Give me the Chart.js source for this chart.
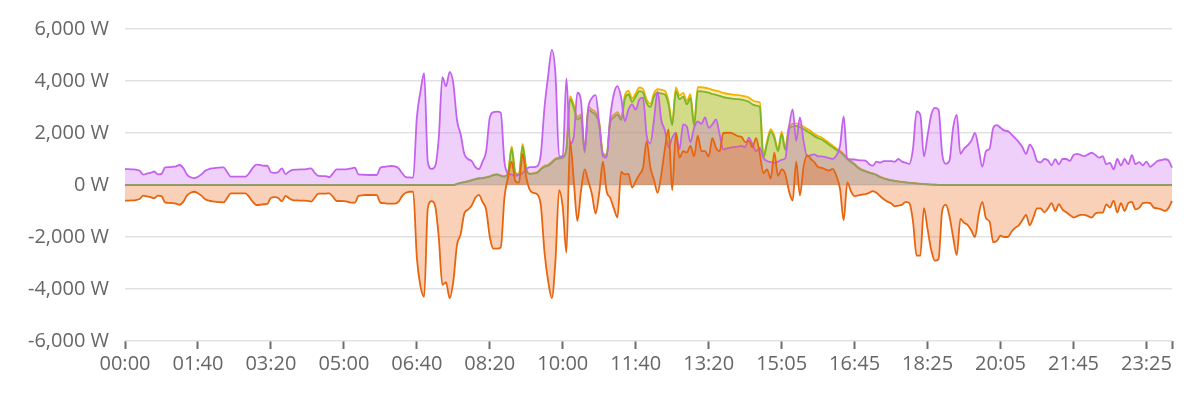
<!DOCTYPE html>
<html>
<head>
<meta charset="utf-8">
<script src="https://cdn.jsdelivr.net/npm/chart.js@4.4.1/dist/chart.umd.min.js"></script>
<style>
html,body{margin:0;padding:0;background:#fff;}
#wrap{width:1200px;height:393px;}
</style>
</head>
<body>
<div id="wrap"><canvas id="c" width="1200" height="393"></canvas></div>
<script>
// 5-minute categories (one sample missing in the early afternoon)
const categories = [];
for (let i = 0; i < 288; i++) {
  const m = (i * 5 + (i > 168 ? 5 : 0)) % 1440;
  categories.push(String(Math.floor(m / 60)).padStart(2, '0') + ':' + String(m % 60).padStart(2, '0'));
}
const tickEvery = 20;
const yTicks = [-6000, -4000, -2000, 0, 2000, 4000, 6000];

const grid = [
-600,-600,-590,-580,-540,-410,-440,-470,-510,-410,
-430,-670,-690,-700,-720,-760,-640,-400,-300,-260,
-320,-420,-550,-600,-630,-650,-660,-670,-500,-320,
-320,-320,-320,-320,-450,-640,-770,-760,-740,-730,
-490,-470,-500,-630,-420,-510,-580,-590,-600,-600,
-610,-640,-490,-330,-330,-330,-320,-450,-615,-615,
-620,-640,-680,-680,-420,-400,-385,-385,-385,-390,
-680,-700,-720,-720,-720,-640,-420,-300,-260,-255,
-2800,-3900,-4300,-900,-620,-800,-2000,-3840,-3750,-4350,
-3700,-2300,-1900,-1100,-950,-800,-500,-380,-650,-950,
-2000,-2450,-2450,-2400,-500,300,900,150,90,1200,
300,-200,-300,-360,-800,-2600,-3700,-4350,-2900,-200,
-870,-2600,1700,200,-1380,-230,600,150,-360,-1100,
-300,900,-230,-490,-900,-1250,500,410,430,-100,
150,400,665,1690,700,200,-300,400,1400,2140,
-200,2000,1050,1300,1250,1500,1100,1900,1300,1300,
1100,1800,1430,1300,2000,2010,2010,1950,1880,1850,
1650,1700,1450,1800,1200,450,600,250,1240,350,
600,420,-230,-600,900,-400,700,1150,1000,870,
690,660,600,550,620,350,-150,-1350,100,-240,
-430,-400,-370,-350,-300,-235,-300,-430,-550,-640,
-700,-820,-790,-760,-650,-700,-1400,-2720,-2720,-890,
-1700,-2500,-2910,-2850,-1000,-760,-1200,-2000,-2700,-1300,
-1450,-1540,-1750,-2000,-1150,-650,-1280,-1410,-2200,-2150,
-1950,-2000,-2000,-1800,-1650,-1550,-1350,-1150,-1550,-1250,
-900,-900,-1050,-900,-700,-1000,-740,-950,-1050,-1150,
-1250,-1200,-1150,-1150,-1200,-1250,-1100,-1060,-1060,-750,
-870,-600,-1060,-700,-1000,-700,-650,-935,-880,-700,
-680,-700,-870,-900,-935,-1000,-900,-615
];

const consumption = [
615,610,600,590,550,400,440,470,520,410,
430,680,690,700,720,770,650,400,300,260,
320,420,550,610,640,660,670,680,500,320,
320,320,320,320,450,650,780,770,740,740,
490,470,500,640,420,520,580,590,600,600,
620,640,470,350,345,345,300,450,600,600,
600,610,640,665,410,400,390,385,385,385,
665,700,720,730,720,640,450,300,290,280,
2590,3600,4300,900,620,720,1800,4150,3800,4350,
3900,2500,1950,1200,1000,930,700,610,900,1300,
2600,2800,2820,2780,900,450,400,360,380,460,
620,690,690,720,1200,3000,4200,5200,4250,1100,
1110,4100,1600,1850,3550,3230,1350,2970,3350,3460,
2330,1110,1050,2600,3500,3800,3360,2450,2900,3100,
2900,3290,3360,1900,1600,2500,3600,2500,2100,1450,
1820,2010,1370,2330,2250,1650,2200,2450,2350,2600,
2200,2330,2520,1950,1370,1410,1440,1460,1480,1500,
1460,1820,1560,1300,1430,1050,920,880,860,900,
970,1030,2200,2910,1700,2600,1700,1100,1150,1180,
1100,1100,1070,1030,1000,1140,1500,2640,1000,980,
980,960,950,940,800,745,900,860,920,920,
920,900,1000,900,860,810,1400,2830,2700,1100,
1900,2700,2970,2900,1200,810,940,2200,2700,1200,
1400,1530,1700,2000,1400,700,1300,1400,2200,2300,
2200,2100,2070,1950,1800,1650,1450,1200,1550,1350,
920,870,1000,950,760,990,790,1000,1000,930,
1150,1200,1150,1110,1180,1240,1150,1050,1110,800,
850,600,1000,750,1000,800,1150,800,880,760,
900,700,800,920,960,990,950,665
];

const pvInverter = [
0,0,0,0,0,0,0,0,0,0,
0,0,0,0,0,0,0,0,0,0,
0,0,0,0,0,0,0,0,0,0,
0,0,0,0,0,0,0,0,0,0,
0,0,0,0,0,0,0,0,0,0,
0,0,0,0,0,0,0,0,0,0,
0,0,0,0,0,0,0,0,0,0,
0,0,0,0,0,0,0,0,0,0,
0,0,0,0,0,0,0,0,0,0,
0,40,80,110,140,180,220,250,260,280,
320,380,400,350,320,450,1400,450,400,1500,
600,420,440,470,600,700,740,850,980,1020,
1050,1350,3300,2970,2520,2610,1250,2900,2800,2700,
2330,1180,1110,2400,2600,2710,2500,3300,3480,3200,
3400,3610,3550,3150,3000,3400,3550,3520,3480,3100,
2300,3600,3300,3400,3100,3350,2270,3610,3600,3580,
3550,3500,3470,3430,3380,3350,3330,3310,3300,3280,
3250,3200,3100,3050,3000,1050,1600,2050,1800,1300,
1950,1350,2150,2250,2270,2220,2150,2070,1980,1880,
1800,1750,1650,1550,1450,1350,1270,1150,1000,880,
780,650,570,520,470,430,380,300,250,210,
180,160,130,120,100,85,75,60,45,35,
25,15,10,5,0,0,0,0,0,0,
0,0,0,0,0,0,0,0,0,0,
0,0,0,0,0,0,0,0,0,0,
0,0,0,0,0,0,0,0,0,0,
0,0,0,0,0,0,0,0,0,0,
0,0,0,0,0,0,0,0,0,0,
0,0,0,0,0,0,0,0
];

const pvTotal = [
0,0,0,0,0,0,0,0,0,0,
0,0,0,0,0,0,0,0,0,0,
0,0,0,0,0,0,0,0,0,0,
0,0,0,0,0,0,0,0,0,0,
0,0,0,0,0,0,0,0,0,0,
0,0,0,0,0,0,0,0,0,0,
0,0,0,0,0,0,0,0,0,0,
0,0,0,0,0,0,0,0,0,0,
0,0,0,0,0,0,0,0,0,0,
0,40,85,115,150,190,230,260,270,300,
340,400,420,370,340,480,1480,480,420,1580,
630,440,460,500,630,740,780,890,1020,1060,
1100,1420,3420,3080,2620,2710,1300,3010,2900,2800,
2420,1230,1160,2500,2700,2800,2600,3440,3620,3330,
3530,3750,3690,3280,3120,3530,3690,3660,3620,3220,
2390,3750,3440,3540,3230,3490,2360,3760,3760,3740,
3710,3660,3630,3590,3540,3510,3490,3470,3460,3440,
3410,3360,3260,3210,3180,1120,1690,2150,1890,1370,
2050,1430,2250,2350,2370,2320,2240,2160,2070,1960,
1880,1830,1720,1620,1510,1400,1320,1200,1040,920,
810,680,600,540,490,450,400,320,265,225,
190,170,140,125,105,90,80,65,50,38,
28,18,12,6,0,0,0,0,0,0,
0,0,0,0,0,0,0,0,0,0,
0,0,0,0,0,0,0,0,0,0,
0,0,0,0,0,0,0,0,0,0,
0,0,0,0,0,0,0,0,0,0,
0,0,0,0,0,0,0,0,0,0,
0,0,0,0,0,0,0,0
];

const FONT = {family: "'Open Sans', 'Noto Sans', sans-serif", size: 20};
function ds(label, data, line, fill) {
  return {label, data, borderColor: line, backgroundColor: fill, fill: 'origin',
    borderWidth: 1.8, pointRadius: 0, pointHoverRadius: 0, cubicInterpolationMode: 'monotone'};
}

new Chart(document.getElementById('c'), {
  type: 'line',
  data: {
    labels: categories,
    datasets: [
      ds('Grid', grid, '#e8650f', 'rgba(236,104,20,0.30)'),
      ds('Consumption', consumption, '#c462f0', 'rgba(200,100,240,0.30)'),
      ds('PV inverter', pvInverter, '#7ab62a', 'rgba(124,184,47,0.32)'),
      ds('PV total', pvTotal, '#f2b300', 'rgba(245,184,0,0.30)')
    ]
  },
  options: {
    responsive: false,
    animation: false,
    devicePixelRatio: 1,
    layout: {padding: {top: 29, right: 28, bottom: 0, left: 0}},
    plugins: {legend: {display: false}, tooltip: {enabled: false}},
    scales: {
      x: {
        type: 'category',
        offset: false,
        border: {display: false},
        grid: {drawOnChartArea: false, drawTicks: true, tickLength: 8, tickColor: '#6e6e6e', tickWidth: 2},
        ticks: {
          autoSkip: false, maxRotation: 0, minRotation: 0, padding: 3,
          color: '#666', font: FONT,
          callback: function(v, idx) {
            if (idx % tickEvery === 0) return categories[idx];
            if (idx === categories.length - 1) return '';
            return null;
          }
        },
        afterFit: s => { s.height = 52; }
      },
      y: {
        min: -6000, max: 6000,
        border: {display: false},
        grid: {color: '#e2e2e2', lineWidth: 1.6, drawTicks: false},
        afterBuildTicks: s => { s.ticks = yTicks.map(v => ({value: v})); },
        ticks: {
          padding: 16, color: '#666', font: FONT,
          callback: v => v.toLocaleString('en-US') + ' W'
        },
        afterFit: s => { s.width = 125; }
      }
    }
  }
});
</script>
</body>
</html>
